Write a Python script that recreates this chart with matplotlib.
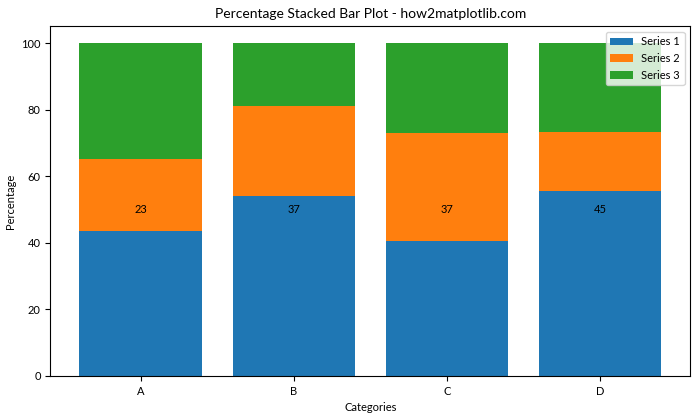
import matplotlib
matplotlib.use("Agg")
from matplotlib import pyplot as plt
import numpy as np

plt.rcParams['font.family'] = ['Lato', 'DejaVu Sans']

categories = ['A', 'B', 'C', 'D']
series1 = [20, 40, 30, 50]
series2 = [10, 20, 24, 16]
series3 = [16, 14, 20, 24]
bar_labels = [23, 37, 37, 45]

s1 = np.array(series1, dtype=float)
s2 = np.array(series2, dtype=float)
s3 = np.array(series3, dtype=float)
totals = s1 + s2 + s3
p1 = s1 / totals * 100
p2 = s2 / totals * 100
p3 = s3 / totals * 100

fig, ax = plt.subplots(figsize=(7, 4.2), dpi=100)
ax.bar(categories, p1, label='Series 1')
ax.bar(categories, p2, bottom=p1, label='Series 2')
ax.bar(categories, p3, bottom=p1 + p2, label='Series 3')

for i, lab in enumerate(bar_labels):
    ax.text(i, 50, str(lab), ha='center', va='center', fontsize=8)

ax.set_title('Percentage Stacked Bar Plot - how2matplotlib.com', fontsize=10)
ax.set_xlabel('Categories', fontsize=8)
ax.set_ylabel('Percentage', fontsize=8)
ax.tick_params(labelsize=8)
ax.legend(fontsize=8)

plt.subplots_adjust(left=0.072, right=0.986, top=0.937, bottom=0.105)
plt.savefig('out.png')
